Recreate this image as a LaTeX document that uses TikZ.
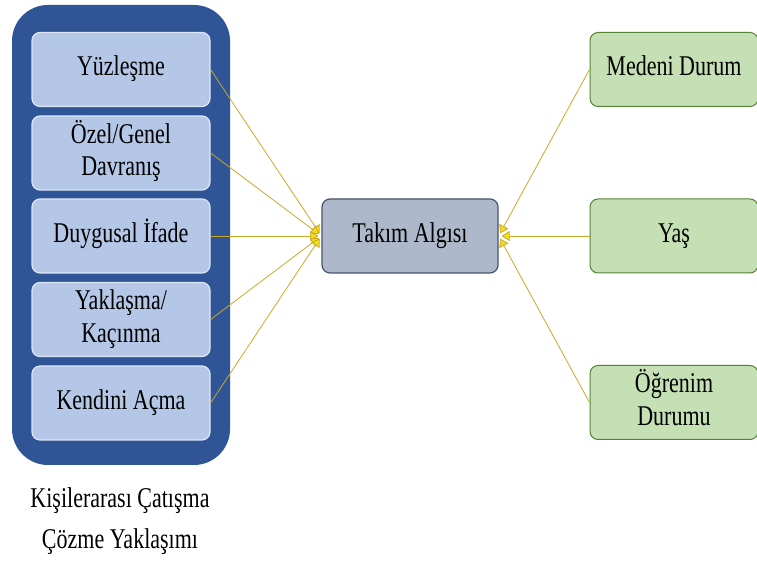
\documentclass[tikz,border=0pt]{standalone}
\usepackage{fontspec}
\usepackage{graphicx}
\setmainfont{Liberation Serif}
\usetikzlibrary{arrows.meta}

\definecolor{koyumavi}{RGB}{47,85,151}
\definecolor{acikmavi}{RGB}{180,199,231}
\definecolor{kenarmavi}{RGB}{222,231,246}
\definecolor{gri}{RGB}{173,185,202}
\definecolor{koyugri}{RGB}{68,84,106}
\definecolor{yesil}{RGB}{197,224,180}
\definecolor{koyuyesil}{RGB}{84,130,53}
\definecolor{hardal}{RGB}{204,168,40}

% dikey olarak uzatılmış metin
\newcommand{\uzun}[1]{\scalebox{1}[1.3]{\begin{tabular}{@{}c@{}}#1\end{tabular}}}

\tikzset{
  kutu/.style={rounded corners=8pt, minimum width=178pt, minimum height=74pt,
    align=center, font=\fontsize{22}{25}\selectfont, inner sep=0pt},
  boyut/.style={kutu, draw=kenarmavi, fill=acikmavi, line width=1.2pt},
  degisken/.style={kutu, draw=koyuyesil, fill=yesil, line width=1pt, minimum width=168pt},
  merkez/.style={kutu, draw=koyugri, fill=gri, line width=1.2pt, minimum width=176pt},
  bag/.style={draw=hardal, line width=0.8pt, shorten >=3pt,
    -{Triangle[length=8pt,width=10pt,fill=yellow!70!hardal]}}
}

\begin{document}
\begin{tikzpicture}[x=1pt,y=1pt]
		\useasboundingbox (0,0) rectangle (757,564);
		
		% Çerçeve
		\fill[koyumavi,rounded corners=36pt] (12,99) rectangle (230,559);
		
		% Boyutlar
		\node[boyut] (yuz) at (121,494.5) {\uzun{Yüzleşme}};
		\node[boyut] (ozel) at (121,411) {\uzun{Özel/Genel\\Davranış}};
		\node[boyut] (duy) at (121,328) {\uzun{Duygusal İfade}};
		\node[boyut] (yak) at (121,244.5) {\uzun{Yaklaşma/\\Kaçınma}};
		\node[boyut] (ken) at (121,161) {\uzun{Kendini Açma}};
		
		% Merkez
		\node[merkez] (takim) at (410,328) {\uzun{Takım Algısı}};
		
		% Demografik
		\node[degisken] (medeni) at (674,494.5) {\uzun{Medeni Durum}};
		\node[degisken] (yas) at (674,328) {\uzun{Yaş}};
		\node[degisken] (ogr) at (674,161.5) {\uzun{Öğrenim\\Durumu}};
		
		% Bağlantılar
		\foreach \k in {yuz,ozel,duy,yak,ken}
		  \draw[bag] (\k.east) -- (takim.west);
		\foreach \k in {medeni,yas,ogr}
		  \draw[bag] (\k.west) -- (takim.east);
		
		% Başlık
		\node[align=center, font=\fontsize{22}{31}\selectfont] (baslik) at (120,44)
		  {\uzun{Kişilerarası Çatışma\\Çözme Yaklaşımı}};
		
	\end{tikzpicture}
\end{document}
